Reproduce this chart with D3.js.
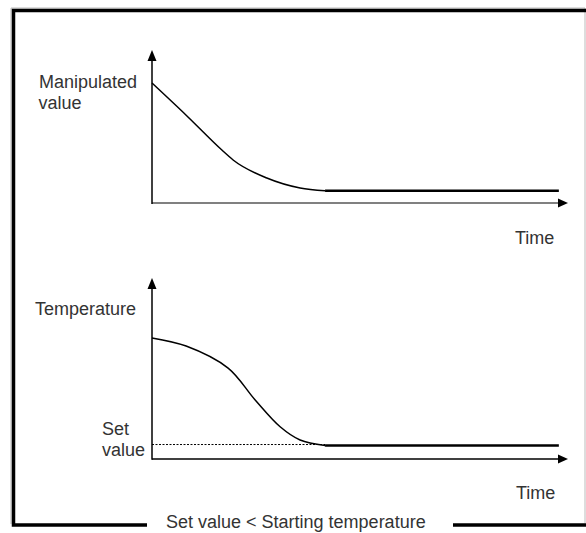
<!DOCTYPE html>
<html>
<head>
<meta charset="utf-8">
<script src="https://cdn.jsdelivr.net/npm/d3@7"></script>
<style>
  html, body { margin: 0; padding: 0; background: #fff; }
  svg { display: block; }
  text { font-family: "Liberation Sans", Arial, sans-serif; fill: #333; }
</style>
</head>
<body>
<svg id="chart" width="586" height="533"></svg>
<script>
// ---- data (time in arbitrary units 0..100, values in arbitrary units 0..10) ----
const mvTime   = [0, 8.4, 16.8, 19.5, 27.6, 35.6, 41.6, 97.8];
const mvValue  = [7.84, 5.69, 3.46, 2.81, 1.63, 0.98, 0.80, 0.80];

const tempTime  = [0, 8.2, 18.3, 24.8, 30.8, 35.6, 41.6];
const tempValue = [6.69, 6.24, 5.02, 3.26, 1.78, 1.05, 0.75];
const tempSteadyTime  = [41.6, 97.8];
const tempSteadyValue = [0.75, 0.75];

const setValue = [0.80];
const setTime  = [0, 41.6];

const labels = {
  topY: ["Manipulated", "value"],
  bottomY: ["Temperature"],
  setLabel: ["Set", "value"],
  xLabel: "Time",
  caption: "Set value < Starting temperature"
};

const svg = d3.select("#chart");

// ---- frame ----
svg.append("path")
  .attr("d", "M11,524 L11,8 L585,8 L585,523")
  .attr("fill", "none").attr("stroke", "#bbb").attr("stroke-width", 1);
svg.append("path")
  .attr("d", "M147,525 L13.5,525 L13.5,10.5 L590,10.5")
  .attr("fill", "none").attr("stroke", "#000").attr("stroke-width", 3.5);
svg.append("line")
  .attr("x1", 453).attr("x2", 590).attr("y1", 525).attr("y2", 525)
  .attr("stroke", "#000").attr("stroke-width", 3.5);

// ---- scales ----
const x = d3.scaleLinear().domain([0, 100]).range([152, 568]);
const yTop = d3.scaleLinear().domain([0, 10]).range([203, 50]);
const yBot = d3.scaleLinear().domain([0, 10]).range([459, 278]);

function arrowUp(g, xp, yTip) {
  g.append("path")
    .attr("d", `M${xp},${yTip} L${xp - 4.5},${yTip + 11} L${xp + 4.5},${yTip + 11} Z`)
    .attr("fill", "#000");
}
function arrowRight(g, xTip, yp) {
  g.append("path")
    .attr("d", `M${xTip},${yp} L${xTip - 10},${yp - 4.5} L${xTip - 10},${yp + 4.5} Z`)
    .attr("fill", "#000");
}

// ---- top panel axes ----
const gTop = svg.append("g");
gTop.append("line")
  .attr("x1", x(0)).attr("x2", x(100) - 8)
  .attr("y1", yTop(0)).attr("y2", yTop(0))
  .attr("stroke", "#808080").attr("stroke-width", 1.8);
gTop.append("line")
  .attr("x1", x(0)).attr("x2", x(0))
  .attr("y1", yTop(0) + 0.9).attr("y2", yTop(10) + 8)
  .attr("stroke", "#000").attr("stroke-width", 1.5);
arrowUp(gTop, x(0), yTop(10));
arrowRight(gTop, x(100), yTop(0));

// top curve
const mvData = mvTime.map((t, i) => ({ t, v: mvValue[i] }));
const lineTop = d3.line().x(d => x(d.t)).y(d => yTop(d.v)).curve(d3.curveMonotoneX);
gTop.append("path")
  .datum(mvData.slice(0, 7))
  .attr("d", lineTop)
  .attr("fill", "none").attr("stroke", "#000").attr("stroke-width", 1.5);
gTop.append("path")
  .datum(mvData.slice(6))
  .attr("d", lineTop)
  .attr("fill", "none").attr("stroke", "#000").attr("stroke-width", 2.4);

// top labels
gTop.append("text").attr("x", 39).attr("y", 88).style("font-size", "18px").text(labels.topY[0]);
gTop.append("text").attr("x", 38.5).attr("y", 109).style("font-size", "18px").text(labels.topY[1]);
gTop.append("text").attr("x", 515).attr("y", 244).style("font-size", "18px").text(labels.xLabel);

// ---- bottom panel axes ----
const gBot = svg.append("g");
gBot.append("line")
  .attr("x1", x(0)).attr("x2", x(100) - 8)
  .attr("y1", yBot(0)).attr("y2", yBot(0))
  .attr("stroke", "#000").attr("stroke-width", 1.5);
gBot.append("line")
  .attr("x1", x(0)).attr("x2", x(0))
  .attr("y1", yBot(0) + 0.75).attr("y2", yBot(10) + 8)
  .attr("stroke", "#000").attr("stroke-width", 1.5);
arrowUp(gBot, x(0), yBot(10));
arrowRight(gBot, x(100), yBot(0));

// set value dotted line
gBot.append("line")
  .attr("x1", x(setTime[0])).attr("x2", x(setTime[1]))
  .attr("y1", yBot(setValue[0])).attr("y2", yBot(setValue[0]))
  .attr("stroke", "#000").attr("stroke-width", 1)
  .attr("stroke-dasharray", "2,1.5");

// temperature curve
const tempData = tempTime.map((t, i) => ({ t, v: tempValue[i] }));
const lineBot = d3.line().x(d => x(d.t)).y(d => yBot(d.v)).curve(d3.curveCatmullRom.alpha(0.5));
gBot.append("path")
  .datum(tempData)
  .attr("d", lineBot)
  .attr("fill", "none").attr("stroke", "#000").attr("stroke-width", 1.5);
gBot.append("path")
  .datum(tempSteadyTime.map((t, i) => ({ t, v: tempSteadyValue[i] })))
  .attr("d", lineBot)
  .attr("fill", "none").attr("stroke", "#000").attr("stroke-width", 2.4);

// bottom labels
gBot.append("text").attr("x", 35).attr("y", 315).style("font-size", "18px").text(labels.bottomY[0]);
gBot.append("text").attr("x", 102).attr("y", 435).style("font-size", "18px").text(labels.setLabel[0]);
gBot.append("text").attr("x", 102).attr("y", 456).style("font-size", "18px").text(labels.setLabel[1]);
gBot.append("text").attr("x", 516).attr("y", 499).style("font-size", "18px").text(labels.xLabel);

// caption
svg.append("text").attr("x", 166).attr("y", 528).style("font-size", "18px").text(labels.caption);
</script>
</body>
</html>
